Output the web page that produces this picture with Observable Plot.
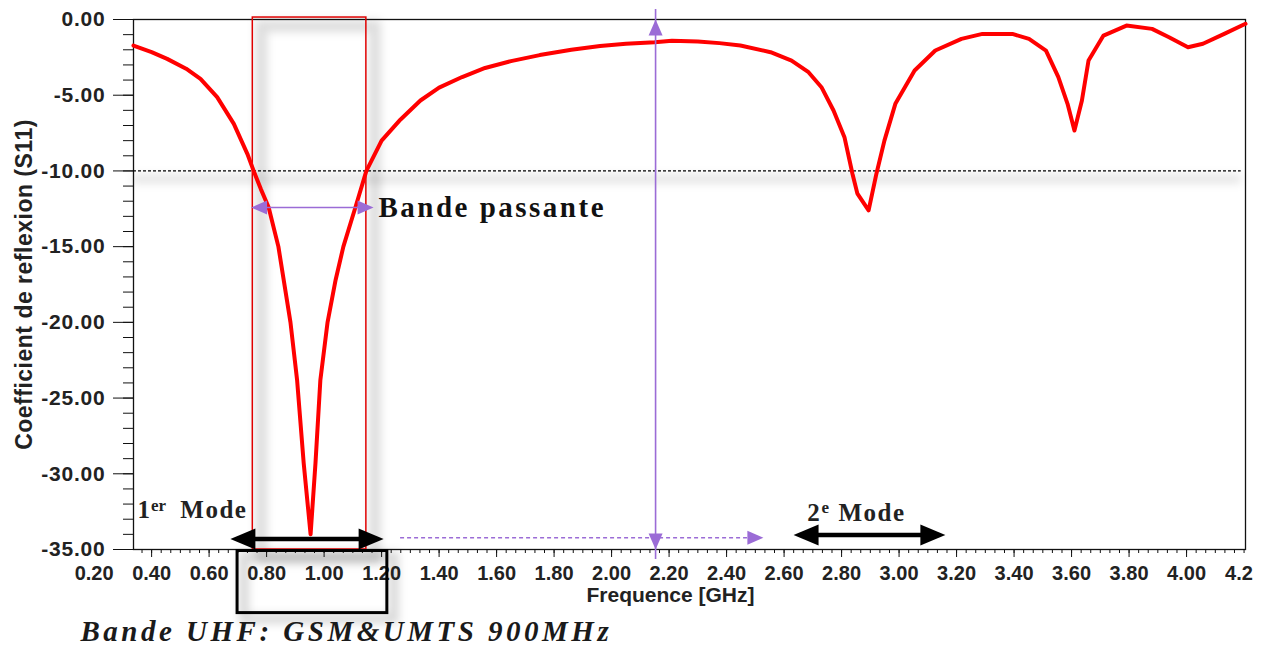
<!DOCTYPE html>
<html><head><meta charset="utf-8">
<script src="https://cdn.jsdelivr.net/npm/d3@7"></script>
<script src="https://cdn.jsdelivr.net/npm/@observablehq/plot@0.6"></script>
<style>
html,body{margin:0;padding:0;background:#fff;}
#chart svg{display:block;}
g[aria-description="ls-ytick"] text{letter-spacing:0.8px;}
g[aria-description="ls-ytitle"] text{letter-spacing:0.5px;}
g[aria-description="ls-band"] text{letter-spacing:2.5px;}
g[aria-description="ls-mode"] text{letter-spacing:1.5px;}
g[aria-description="ls-caption"] text{letter-spacing:3.5px;}
g[aria-description="shadow"]{filter:blur(4px);}
</style></head><body><div id="chart"></div>
<script>
// ---- data ----
const freqGHz = [0.337, 0.40, 0.454, 0.52, 0.570, 0.628, 0.686, 0.733, 0.755, 0.780, 0.807, 0.841, 0.883, 0.906, 0.929, 0.953, 0.970, 0.987, 1.012, 1.040, 1.067, 1.109, 1.147, 1.20, 1.266, 1.335, 1.40, 1.48, 1.56, 1.65, 1.75, 1.86, 1.96, 2.05, 2.15, 2.21, 2.30, 2.375, 2.448, 2.553, 2.626, 2.685, 2.730, 2.772, 2.810, 2.838, 2.855, 2.894, 2.921, 2.949, 2.987, 3.054, 3.126, 3.217, 3.290, 3.394, 3.452, 3.511, 3.554, 3.586, 3.610, 3.636, 3.659, 3.711, 3.791, 3.880, 3.939, 4.005, 4.057, 4.131, 4.205];
const s11dB = [-1.72, -2.15, -2.60, -3.25, -3.92, -5.13, -6.89, -8.87, -10.0, -11.2, -12.4, -15.0, -20.0, -23.8, -29.3, -34.0, -29.3, -23.8, -20.0, -17.2, -15.0, -12.4, -10.0, -8.0, -6.6, -5.35, -4.5, -3.8, -3.2, -2.75, -2.35, -2.0, -1.75, -1.6, -1.5, -1.4, -1.45, -1.56, -1.72, -2.16, -2.71, -3.48, -4.47, -6.01, -7.77, -10.2, -11.5, -12.6, -10.2, -8.0, -5.57, -3.37, -2.05, -1.28, -0.95, -0.95, -1.28, -2.05, -3.81, -5.57, -7.33, -5.35, -2.71, -1.06, -0.40, -0.62, -1.17, -1.83, -1.6, -0.95, -0.28];

const xTickValues = [0.2, 0.4, 0.6, 0.8, 1.0, 1.2, 1.4, 1.6, 1.8, 2.0, 2.2, 2.4, 2.6, 2.8, 3.0, 3.2, 3.4, 3.6, 3.8, 4.0];
const xTickLabels = ["0.20","0.40","0.60","0.80","1.00","1.20","1.40","1.60","1.80","2.00","2.20","2.40","2.60","2.80","3.00","3.20","3.40","3.60","3.80","4.00"];
const xLastTick = [4.2];
const xLastLabel = ["4.2"];
const yTickValues = [0, -5, -10, -15, -20, -25, -30, -35];
const yTickLabels = ["0.00","-5.00","-10.00","-15.00","-20.00","-25.00","-30.00","-35.00"];

// annotations (data space)
const thresholdDb = [-10];
const passbandBox = [{x1: 0.752, x2: 1.147, y1: -35, y2: 0.13}];
const passbandArrow = [{x1: 0.746, x2: 1.172, y: -12.42}];
const modeArrows = [{x1: 0.674, x2: 1.207, y: -34.3}, {x1: 2.633, x2: 3.161, y: -34.04}];
const spacingArrow = [{x: 2.153, y1: -35, y2: 0}];
const dashedArrow = [{x1: 1.266, x2: 2.528, y: -34.23}];
const uhfBox = [{x1: 0.699, x2: 1.220, y1: -35.1, y2: -39.2}];
const bandLabel = [{text: "Bande passante", x: 1.189, y: -12.42}];
const modeNumbers = [{text: "1", x: 0.351, y: -32.95}, {text: "2", x: 2.681, y: -33.15}];
const modeSups = [{text: "er", x: 0.398, y: -32.45}, {text: "e", x: 2.730, y: -32.6}];
const modeWords = [{text: "Mode", x: 0.500, y: -32.95}, {text: "Mode", x: 2.789, y: -33.15}];

const curve = freqGHz.map((f, i) => ({f, s: s11dB[i]}));
const xMinorTicks = d3.range(0, 118).map(k => 0.4 + (k - 2) * 0.2 / 6).filter(v => v >= 0.337 && v <= 4.205);
const xMajorTicks = xTickValues.filter(v => v >= 0.337);

const purple = "#9b6cd6";
const head = (ux, uy, L, W) => ({draw(ctx) {
  const px = -uy, py = ux;
  ctx.moveTo(0, 0);
  ctx.lineTo(-ux * L + px * W / 2, -uy * L + py * W / 2);
  ctx.lineTo(-ux * L - px * W / 2, -uy * L - py * W / 2);
  ctx.closePath();
}});
const bigL = head(-1, 0, 25, 21), bigR = head(1, 0, 25, 21);
const smL = head(-1, 0, 16, 14), smR = head(1, 0, 16, 14), smU = head(0, -1, 16, 14), smD = head(0, 1, 16, 14);

const sans = "'Liberation Sans', Arial, sans-serif";
const serif = "'Liberation Serif', 'Times New Roman', serif";

const chart = Plot.plot({
  width: 1265, height: 647,
  marginLeft: 133, marginRight: 20, marginTop: 19, marginBottom: 98,
  x: {domain: [0.337, 4.205], axis: null},
  y: {domain: [-35, 0], axis: null},
  style: {fontFamily: sans, background: "white", overflow: "visible"},
  marks: [
    // shadows
    Plot.rect(passbandBox, {x1: "x1", x2: "x2", y1: "y1", y2: "y2", fill: "none", stroke: "#000", strokeOpacity: 0.13, strokeWidth: 12, dx: 9, dy: 9, ariaDescription: "shadow"}),
    Plot.ruleY(thresholdDb, {x1: 0.337, x2: 4.19, stroke: "#000", strokeOpacity: 0.1, strokeWidth: 9, dy: 8, ariaDescription: "shadow"}),
    Plot.rect(uhfBox, {x1: "x1", x2: "x2", y1: "y1", y2: "y2", fill: "none", stroke: "#000", strokeOpacity: 0.15, strokeWidth: 10, dx: 7, dy: 6, ariaDescription: "shadow"}),
    // frame and axes
    Plot.frame({stroke: "#111", strokeWidth: 1.3}),
    Plot.axisY({ticks: d3.range(0, -36, -1), tickSize: 10, tickFormat: () => "", label: null, stroke: "#111"}),
    Plot.axisY({ticks: yTickValues, tickSize: 20, tickFormat: () => "", label: null, stroke: "#111"}),
    Plot.axisX({ticks: xMinorTicks, tickSize: 4, tickFormat: () => "", label: null, stroke: "#111"}),
    Plot.axisX({ticks: xMajorTicks, tickSize: 8, tickFormat: () => "", label: null, stroke: "#111"}),
    Plot.text(yTickValues, {y: d => d, text: (d, i) => yTickLabels[i], frameAnchor: "left", dx: -28, textAnchor: "end", fontSize: 21, fontWeight: "bold", fill: "#222", ariaDescription: "ls-ytick"}),
    Plot.text(xTickValues, {x: d => d, text: (d, i) => xTickLabels[i], frameAnchor: "bottom", dy: 30, lineAnchor: "bottom", fontSize: 20, fontWeight: "bold", fill: "#222"}),
    Plot.text(xLastTick, {x: d => d, text: (d, i) => xLastLabel[i], frameAnchor: "bottom", dy: 30, lineAnchor: "bottom", textAnchor: "start", dx: -19, fontSize: 20, fontWeight: "bold", fill: "#222"}),
    Plot.text(["Frequence [GHz]"], {x: () => 2.205, frameAnchor: "bottom", dy: 52, lineAnchor: "bottom", fontSize: 21, fontWeight: "bold", fill: "#222"}),
    Plot.text(["Coefficient de reflexion (S11)"], {frameAnchor: "left", dx: -109, rotate: -90, textAnchor: "middle", fontSize: 23, fontWeight: "bold", fill: "#222", ariaDescription: "ls-ytitle"}),
    // annotations
    Plot.rect(passbandBox, {x1: "x1", x2: "x2", y1: "y1", y2: "y2", fill: "none", stroke: "#e00000", strokeWidth: 1.5}),
    Plot.ruleY(thresholdDb, {x1: 0.337, x2: 4.19, stroke: "#000", strokeWidth: 1.2, strokeDasharray: "3,2"}),
    Plot.rect(uhfBox, {x1: "x1", x2: "x2", y1: "y1", y2: "y2", fill: "none", stroke: "#000", strokeWidth: 3}),
    Plot.line(curve, {x: "f", y: "s", stroke: "#ff0000", strokeWidth: 4, strokeLinejoin: "round"}),
    // purple arrows
    Plot.ruleX(spacingArrow, {x: "x", y1: "y1", y2: "y2", stroke: purple, strokeWidth: 1.6, insetTop: 10, insetBottom: 10}),
    Plot.dot(spacingArrow, {x: "x", y: "y2", symbol: smU, r: 5, fill: purple, stroke: "none"}),
    Plot.dot(spacingArrow, {x: "x", y: "y1", symbol: smD, r: 5, fill: purple, stroke: "none"}),
    Plot.ruleY(dashedArrow, {y: "y", x1: "x1", x2: "x2", stroke: purple, strokeWidth: 1.5, strokeDasharray: "4,3", insetRight: 10}),
    Plot.dot(dashedArrow, {x: "x2", y: "y", symbol: smR, r: 5, fill: purple, stroke: "none"}),
    Plot.ruleY(passbandArrow, {y: "y", x1: "x1", x2: "x2", stroke: purple, strokeWidth: 1.6, insetLeft: 10, insetRight: 10}),
    Plot.dot(passbandArrow, {x: "x1", y: "y", symbol: smL, r: 5, fill: purple, stroke: "none"}),
    Plot.dot(passbandArrow, {x: "x2", y: "y", symbol: smR, r: 5, fill: purple, stroke: "none"}),
    // black mode arrows
    Plot.ruleY(modeArrows, {y: "y", x1: "x1", x2: "x2", stroke: "#000", strokeWidth: 4.5, insetLeft: 18, insetRight: 18}),
    Plot.dot(modeArrows, {x: "x1", y: "y", symbol: bigL, r: 5, fill: "#000", stroke: "none"}),
    Plot.dot(modeArrows, {x: "x2", y: "y", symbol: bigR, r: 5, fill: "#000", stroke: "none"}),
    // texts
    Plot.text(bandLabel, {x: "x", y: "y", text: "text", textAnchor: "start", fontFamily: serif, fontWeight: "bold", fontSize: 29, fill: "#111", ariaDescription: "ls-band"}),
    Plot.text(modeNumbers, {x: "x", y: "y", text: "text", textAnchor: "start", lineAnchor: "bottom", fontFamily: serif, fontWeight: "bold", fontSize: 25, fill: "#222"}),
    Plot.text(modeSups, {x: "x", y: "y", text: "text", textAnchor: "start", lineAnchor: "bottom", fontFamily: serif, fontWeight: "bold", fontSize: 17, fill: "#222"}),
    Plot.text(modeWords, {x: "x", y: "y", text: "text", textAnchor: "start", lineAnchor: "bottom", fontFamily: serif, fontWeight: "bold", fontSize: 25, fill: "#222", ariaDescription: "ls-mode"}),
    Plot.text(["Bande UHF: GSM&UMTS 900MHz"], {frameAnchor: "bottom-left", dx: -53, dy: 91, textAnchor: "start", lineAnchor: "bottom", fontFamily: serif, fontWeight: "bold", fontStyle: "italic", fontSize: 29, fill: "#1a1a1a", ariaDescription: "ls-caption"})
  ]
});
document.getElementById("chart").appendChild(chart);
</script>
</body></html>
